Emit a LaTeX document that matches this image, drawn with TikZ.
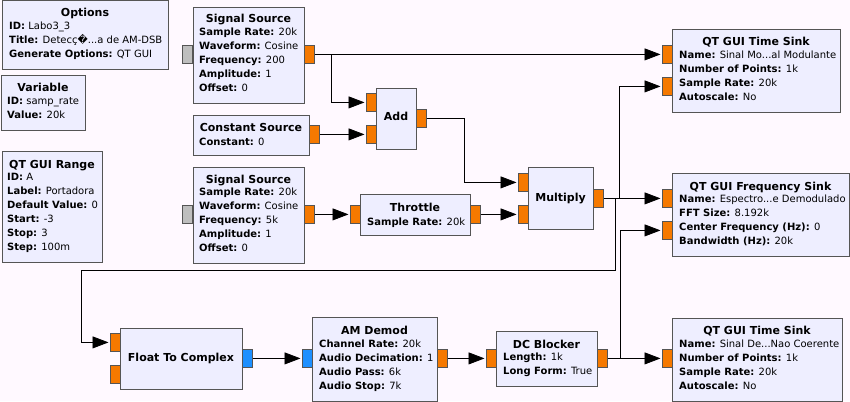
\documentclass[tikz,border=0pt]{standalone}
\usepackage{fontspec}
\setmainfont{DejaVu Sans}
\usetikzlibrary{arrows.meta}

\definecolor{canvas}{HTML}{FFF9FF}
\definecolor{blockfill}{HTML}{EEEEFF}
\definecolor{blockline}{HTML}{555555}
\definecolor{portorange}{HTML}{F57900}
\definecolor{portblue}{HTML}{1E90FF}
\definecolor{portgray}{HTML}{BEBEBE}

\begin{document}
\begin{tikzpicture}[x=1pt,y=-1pt,
    block/.style={draw=blockline,fill=blockfill,line width=0.8pt,inner sep=0pt,anchor=north west},
    port/.style={draw=blockline,fill=portorange,line width=0.8pt,inner sep=0pt,
      minimum width=10pt,minimum height=18pt,anchor=north west},
    cport/.style={port,fill=portblue},
    nport/.style={port,fill=portgray},
    title/.style={font=\bfseries\fontsize{11}{14}\selectfont,anchor=base,inner sep=0pt},
    params/.style={font=\fontsize{10}{14}\selectfont,align=left,anchor=north west,
      inner sep=0pt,execute at begin node=\strut},
    conn/.style={line width=0.8pt,-{Triangle[length=16pt,width=12pt]},shorten >=1.5pt}]

    \useasboundingbox (0,0) rectangle (850,401);
    \fill[canvas] (0,0) rectangle (850,401);

    % variable blocks
    \node[block,minimum width=166pt,minimum height=68.5pt] (options) at (2,0.5) {};
    \node[title] (options-t) at (85,17) {Options};
    \node[params] (options-p) at (9,21.9) {\textbf{ID:} Labo3\_3\\\textbf{Title:} Detecç�...a de AM-DSB\\\textbf{Generate Options:} QT GUI};

    \node[block,minimum width=84.5pt,minimum height=55pt] (var) at (0.5,75) {};
    \node[title] (var-t) at (43,92) {Variable};
    \node[params] (var-p) at (7,96.9) {\textbf{ID:} samp\_rate\\\textbf{Value:} 20k};

    \node[block,minimum width=100pt,minimum height=111pt] (range) at (2,151) {};
    \node[title] (range-t) at (52,168) {QT GUI Range};
    \node[params] (range-p) at (7,172.9) {\textbf{ID:} A\\\textbf{Label:} Portadora\\\textbf{Default Value:} 0\\\textbf{Start:} -3\\\textbf{Stop:} 3\\\textbf{Step:} 100m};

    % sources
    \node[block,minimum width=111pt,minimum height=96pt] (src1) at (193,7) {};
    \node[title] (src1-t) at (248.5,23) {Signal Source};
    \node[params] (src1-p) at (199,27.9) {\textbf{Sample Rate:} 20k\\\textbf{Waveform:} Cosine\\\textbf{Frequency:} 200\\\textbf{Amplitude:} 1\\\textbf{Offset:} 0};
    \node[nport] (src1-in) at (182,45) {};
    \node[port] (src1-out) at (304,45) {};

    \node[block,minimum width=116pt,minimum height=40pt] (const) at (193,115) {};
    \node[title] (const-t) at (251,131) {Constant Source};
    \node[params] (const-p) at (199,135.9) {\textbf{Constant:} 0};
    \node[port] (const-out) at (309,125) {};

    \node[block,minimum width=111pt,minimum height=96pt] (src2) at (193,167) {};
    \node[title] (src2-t) at (248.5,183) {Signal Source};
    \node[params] (src2-p) at (199,187.9) {\textbf{Sample Rate:} 20k\\\textbf{Waveform:} Cosine\\\textbf{Frequency:} 5k\\\textbf{Amplitude:} 1\\\textbf{Offset:} 0};
    \node[nport] (src2-in) at (182,205) {};
    \node[port] (src2-out) at (304,205) {};

    % processing
    \node[block,minimum width=40pt,minimum height=61pt] (add) at (376,88) {};
    \node[title] (add-t) at (396,121) {Add};
    \node[port] (add-in1) at (366,93) {};
    \node[port] (add-in2) at (366,125) {};
    \node[port] (add-out) at (416,109) {};

    \node[block,minimum width=110pt,minimum height=41pt] (thr) at (360,194) {};
    \node[title] (thr-t) at (415,211) {Throttle};
    \node[params] (thr-p) at (367,215.9) {\textbf{Sample Rate:} 20k};
    \node[port] (thr-in) at (350,205) {};
    \node[port] (thr-out) at (470,205) {};

    \node[block,minimum width=65pt,minimum height=62pt] (mul) at (528,167) {};
    \node[title] (mul-t) at (560.5,201) {Multiply};
    \node[port] (mul-in1) at (518,173) {};
    \node[port] (mul-in2) at (518,205) {};
    \node[port] (mul-out) at (593,189) {};

    \node[block,minimum width=122pt,minimum height=61pt] (ftc) at (120,328) {};
    \node[title] (ftc-t) at (181,361) {Float To Complex};
    \node[port] (ftc-in1) at (110,333) {};
    \node[port] (ftc-in2) at (110,365) {};
    \node[cport] (ftc-out) at (242,349) {};

    \node[block,minimum width=125pt,minimum height=84pt] (am) at (312,317) {};
    \node[title] (am-t) at (374.5,334) {AM Demod};
    \node[params] (am-p) at (319,339.9) {\textbf{Channel Rate:} 20k\\\textbf{Audio Decimation:} 1\\\textbf{Audio Pass:} 6k\\\textbf{Audio Stop:} 7k};
    \node[cport] (am-in) at (302,349) {};
    \node[port] (am-out) at (437,349) {};

    \node[block,minimum width=101pt,minimum height=55pt] (dcb) at (496,331) {};
    \node[title] (dcb-t) at (546.5,348) {DC Blocker};
    \node[params] (dcb-p) at (503,352.9) {\textbf{Length:} 1k\\\textbf{Long Form:} True};
    \node[port] (dcb-in) at (486,349) {};
    \node[port] (dcb-out) at (597,349) {};

    % sinks
    \node[block,minimum width=168pt,minimum height=83pt] (tsink1) at (672,29) {};
    \node[title] (tsink1-t) at (756,46) {QT GUI Time Sink};
    \node[params] (tsink1-p) at (679,50.9) {\textbf{Name:} Sinal Mo...al Modulante\\\textbf{Number of Points:} 1k\\\textbf{Sample Rate:} 20k\\\textbf{Autoscale:} No};
    \node[port] (tsink1-in1) at (662,45) {};
    \node[port] (tsink1-in2) at (662,77) {};

    \node[block,minimum width=177pt,minimum height=83pt] (fsink) at (672,173) {};
    \node[title] (fsink-t) at (760.5,190) {QT GUI Frequency Sink};
    \node[params] (fsink-p) at (679,194.9) {\textbf{Name:} Espectro...e Demodulado\\\textbf{FFT Size:} 8.192k\\\textbf{Center Frequency (Hz):} 0\\\textbf{Bandwidth (Hz):} 20k};
    \node[port] (fsink-in1) at (662,189) {};
    \node[port] (fsink-in2) at (662,221) {};

    \node[block,minimum width=170pt,minimum height=83pt] (tsink2) at (672,318) {};
    \node[title] (tsink2-t) at (757,334) {QT GUI Time Sink};
    \node[params] (tsink2-p) at (679,339.9) {\textbf{Name:} Sinal De...Nao Coerente\\\textbf{Number of Points:} 1k\\\textbf{Sample Rate:} 20k\\\textbf{Autoscale:} No};
    \node[port] (tsink2-in) at (662,349) {};

    % connections
    \coordinate (loop) at (81,270);
    \draw[conn] (src1-out.east) -- (tsink1-in1.west);
    \draw[conn] (src1-out.east) -- ++(17,0) |- (add-in1.west);
    \draw[conn] (const-out.east) -- (add-in2.west);
    \draw[conn] (add-out.east) -- ++(38,0) |- (mul-in1.west);
    \draw[conn] (src2-out.east) -- (thr-in.west);
    \draw[conn] (thr-out.east) -- (mul-in2.west);
    \draw[conn] (mul-out.east) -- (fsink-in1.west);
    \draw[conn] (mul-out.east) -- ++(16,0) |- (tsink1-in2.west);
    \draw[conn] (mul-out.east) -- ++(12,0) |- (loop) |- (ftc-in1.west);
    \draw[conn] (ftc-out.east) -- (am-in.west);
    \draw[conn] (am-out.east) -- (dcb-in.west);
    \draw[conn] (dcb-out.east) -- (tsink2-in.west);
    \draw[conn] (dcb-out.east) -- ++(13,0) |- (fsink-in2.west);
  \end{tikzpicture}
\end{document}
